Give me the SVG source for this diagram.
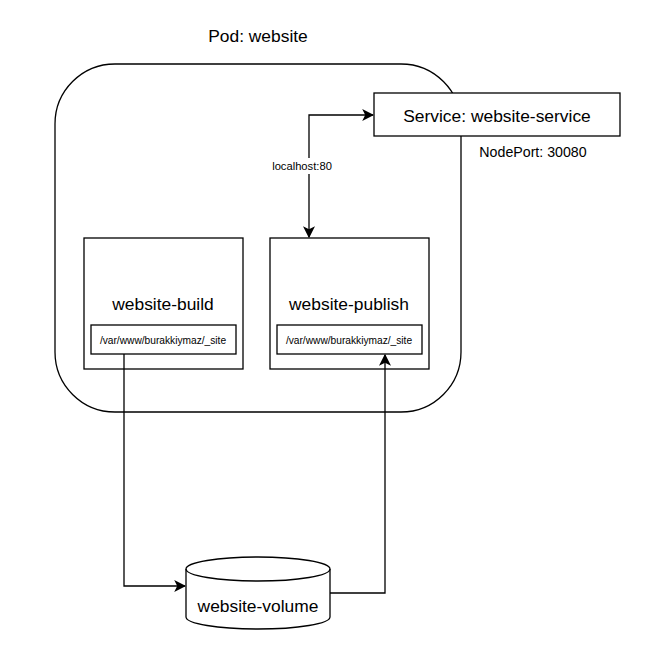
<svg xmlns="http://www.w3.org/2000/svg" width="648" height="667" viewBox="0 0 648 667">
<style>
.s{fill:#fff;stroke:#000;stroke-width:1.3}
.c{fill:none;stroke:#000;stroke-width:1.3}
text{font-family:"Liberation Sans",Arial,sans-serif;fill:#000;text-anchor:middle}
.l{font-size:17.4px}
.m{font-size:14.2px}
.sm{font-size:10.2px}
.lb{font-size:11.2px}
</style>
<defs>
<marker id="a" viewBox="0 0 10 10" refX="9" refY="5" markerWidth="12" markerHeight="12" markerUnits="userSpaceOnUse" orient="auto-start-reverse">
<path d="M0,0 L10,5 L0,10 L2.5,5 Z" fill="#000"/>
</marker>
</defs>
<g id="pod">
<rect class="s" x="55" y="64" width="406" height="348" rx="60" ry="60"/>
<text class="l" x="258" y="42">Pod: website</text>
</g>
<g id="service">
<rect class="s" x="374" y="93" width="246" height="43"/>
<text class="l" x="497" y="122">Service: website-service</text>
<text class="m" x="533" y="157">NodePort: 30080</text>
</g>
<g id="build">
<rect class="s" x="84" y="238" width="159" height="131"/>
<text class="l" x="163" y="310">website-build</text>
<rect class="s" x="91" y="325" width="145" height="29"/>
<text class="sm" x="163" y="344">/var/www/burakkiymaz/_site</text>
</g>
<g id="publish">
<rect class="s" x="270" y="238" width="159" height="131"/>
<text class="l" x="349" y="310">website-publish</text>
<rect class="s" x="277" y="325" width="145" height="29"/>
<text class="sm" x="349" y="344">/var/www/burakkiymaz/_site</text>
</g>
<g id="volume">
<path class="s" d="M186,569 A72,12 0 0 1 330,569 L330,617 A72,12 0 0 1 186,617 Z"/>
<path class="c" d="M186,569 A72,12 0 0 0 330,569"/>
<text class="l" x="258" y="612">website-volume</text>
</g>
<g id="connectors">
<path class="c" d="M124,354 L124,586 L185,586" marker-end="url(#a)"/>
<path class="c" d="M330,593 L385,593 L385,355" marker-end="url(#a)"/>
<path class="c" d="M309,237 L309,115 L373,115" marker-start="url(#a)" marker-end="url(#a)"/>
<rect x="268" y="158" width="68" height="16" fill="#fff"/>
<text class="lb" x="302" y="170">localhost:80</text>
</g>
</svg>
